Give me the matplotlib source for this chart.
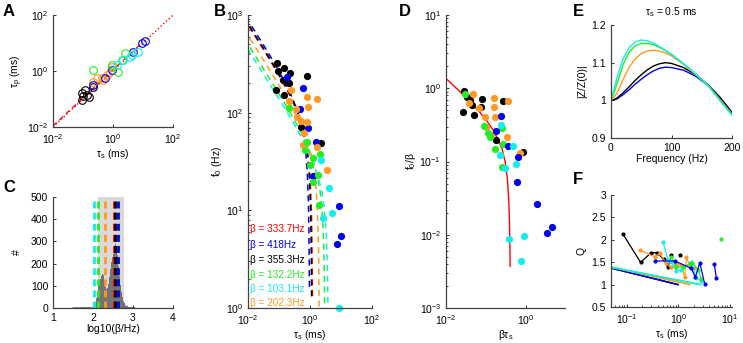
import numpy as np
import matplotlib
matplotlib.use("Agg")
import matplotlib.pyplot as plt
from matplotlib.ticker import LogLocator, NullFormatter

plt.rcParams["font.family"] = ["Liberation Sans", "DejaVu Sans"]
plt.rcParams["mathtext.fontset"] = "custom"
plt.rcParams["mathtext.rm"] = "Liberation Sans"
plt.rcParams["mathtext.it"] = "Liberation Sans:italic"
plt.rcParams["mathtext.default"] = "regular"
plt.rcParams["font.size"] = 7.5

# colours used for the six cells
c_red, c_blue, c_black = "#ff0000", "#0000ee", "#000000"
c_green, c_cyan, c_orange = "#22ee22", "#11eeee", "#ff9922"

# ---- panel A : tau_p vs tau_s (open circles)
a_black_x = [0.090, 0.117, 0.162, 0.090, 0.139, 0.22, 0.103]
a_black_y = [0.159, 0.21, 0.115, 0.092, 0.139, 0.275, 0.128]
a_orange_x = [0.21, 0.286, 0.419, 0.615, 0.9, 0.794, 0.476]
a_orange_y = [0.416, 0.547, 0.547, 0.72, 1.43, 0.946, 0.477]
a_blue_x = [0.22, 0.54, 0.9, 4.76, 9.0, 11.7]
a_blue_y = [0.316, 0.547, 1.09, 4.9, 9.7, 12.1]
a_green_x = [0.22, 1.5, 2.5, 1.95, 0.9]
a_green_y = [1.09, 0.946, 4.27, 2.47, 1.64]
a_cyan_x = [4.19, 7.0, 2.21, 1.33, 3.69]
a_cyan_y = [3.73, 4.9, 2.47, 1.64, 3.16]

# ---- panel B : f0 vs tau_s (filled circles)
b_black_x = [0.084, 0.091, 0.145, 0.226, 0.131, 0.215, 0.080, 0.149, 0.782, 0.5, 2.26]
b_black_y = [325, 269, 284, 257, 216, 203, 171, 152, 238, 72, 49]
b_blue_x = [0.186, 0.581, 0.475, 0.883, 1.56, 1.28, 8.81, 7.26, 9.77]
b_blue_y = [230, 178, 108, 69, 50, 22.6, 11.1, 4.5, 5.5]
b_orange_x = [0.244, 0.215, 0.353, 0.39, 0.5, 0.782, 0.841, 1.64, 0.818, 0.655, 0.61, 1.64, 3.46]
b_orange_y = [171, 133, 108, 90, 83, 146, 114, 137, 81, 62, 47, 45, 26]
b_green_x = [0.215, 0.782, 0.69, 1.22, 1.0, 2.1, 1.28, 1.86, 1.95]
b_green_y = [111, 50, 41, 34, 29, 38, 19.7, 23, 11.4]
b_cyan_x = [2.26, 4.2, 5.0, 2.69, 8.6]
b_cyan_y = [32.8, 16.8, 9.5, 8.3, 1.0]

# ---- panel D : f0/beta vs beta*tau_s
d_black_x = [0.0288, 0.026, 0.0329, 0.0438, 0.05, 0.078, 0.0736, 0.261, 0.178, 0.826, 0.04]
d_black_y = [0.927, 0.469, 0.767, 0.59, 0.431, 0.713, 0.561, 0.677, 0.197, 0.136, 0.69]
d_orange_x = [0.0482, 0.0383, 0.068, 0.094, 0.158, 0.158, 0.168, 0.362, 0.131, 0.329, 0.1, 0.708]
d_orange_y = [0.835, 0.635, 0.532, 0.409, 0.728, 0.549, 0.401, 0.677, 0.23, 0.218, 0.292, 0.132]
d_green_x = [0.03, 0.089, 0.114, 0.126, 0.246, 0.168, 0.261, 0.251]
d_green_y = [0.826, 0.305, 0.248, 0.218, 0.284, 0.15, 0.173, 0.085]
d_blue_x = [0.237, 0.178, 0.362, 0.643, 0.584, 1.85, 3.28, 4.38]
d_blue_y = [0.423, 0.258, 0.163, 0.116, 0.053, 0.0263, 0.0107, 0.0129]
d_cyan_x = [0.237, 0.224, 0.299, 0.482, 0.562, 0.376, 0.874, 0.75]
d_cyan_y = [0.315, 0.123, 0.0807, 0.163, 0.0925, 0.0088, 0.0097, 0.0044]

# theory curve f0/beta vs beta*tau_s
th_u = [0.001, 0.002, 0.005, 0.01, 0.02, 0.04, 0.07, 0.1, 0.15, 0.2, 0.25, 0.3, 0.34, 0.37, 0.385, 0.395, 0.4]
th_g = [4.35, 3.07, 1.93, 1.36, 0.95, 0.65, 0.47, 0.37, 0.27, 0.2, 0.15, 0.1, 0.06, 0.03, 0.015, 0.007, 0.0037]

# beta values (Hz) per cell, as in legend of B
beta_labels = ["333.7", "418", "355.3", "132.2", "103.1", "202.3"]
beta_vals = [333.7, 418.0, 355.3, 132.2, 103.1, 202.3]
beta_cols = [c_red, c_blue, c_black, c_green, c_cyan, c_orange]

# ---- panel C : histogram of log10(beta)
hist_edges_lo = 1.95
hist_width = 0.025
hist_counts = [2, 3, 6, 10, 22, 45, 75, 100, 115, 130, 145, 155, 150, 125, 95, 85, 90, 110,
               140, 175, 205, 230, 245, 260, 290, 275, 240, 190, 145, 105, 70, 48, 32, 22,
               14, 9, 7, 5, 4, 3, 5, 3, 2, 3, 1, 1]
shade_lo, shade_hi = 2.13, 2.78

# ---- panel E : |Z/Z(0)| vs frequency, tau_s = 0.5 ms
e_freq = [0, 5, 10, 20, 30, 40, 50, 60, 70, 80, 90, 100, 120, 140, 160, 180, 200]
e_cyan = [1.0, 1.03, 1.06, 1.11, 1.14, 1.155, 1.16, 1.158, 1.152, 1.143, 1.133, 1.122, 1.097, 1.07, 1.04, 1.0, 0.96]
e_green = [1.0, 1.02, 1.045, 1.095, 1.128, 1.145, 1.151, 1.151, 1.148, 1.141, 1.132, 1.122, 1.097, 1.07, 1.04, 1.0, 0.962]
e_orange = [1.0, 1.008, 1.02, 1.055, 1.088, 1.11, 1.124, 1.131, 1.133, 1.131, 1.126, 1.118, 1.095, 1.068, 1.04, 1.003, 0.963]
e_black = [1.0, 1.002, 1.006, 1.02, 1.036, 1.053, 1.068, 1.081, 1.091, 1.097, 1.1, 1.098, 1.087, 1.068, 1.042, 1.008, 0.967]
e_blue = [1.0, 1.001, 1.004, 1.015, 1.028, 1.043, 1.056, 1.068, 1.078, 1.085, 1.088, 1.087, 1.08, 1.064, 1.04, 1.008, 0.968]

# ---- panel F : Q vs tau_s
f_black_x = [0.085, 0.187, 0.301, 0.388, 0.523, 0.635, 0.737]
f_black_y = [2.13, 1.497, 1.713, 1.713, 1.564, 1.385, 1.66]
f_black_dot = (1.07, 1.66)
f_orange_x = [0.179, 0.35, 0.438, 0.589, 0.715, 0.921, 1.153, 1.337, 1.44, 1.67, 2.03]
f_orange_y = [1.772, 1.623, 1.698, 1.475, 1.385, 1.46, 1.4375, 1.162, 1.623, 1.4, 1.363]
f_cyan_x = [0.508, 0.635, 0.737, 0.921, 1.153, 1.8, 2.25, 2.82]
f_cyan_y = [1.958, 1.549, 1.512, 1.311, 1.326, 1.512, 1.14, 1.088]
f_green_x = [0.737, 0.921, 1.24, 1.67, 1.86, 2.43, 2.82]
f_green_y = [1.623, 1.4, 1.4, 1.46, 1.49, 1.326, 1.118]
f_blue_x = [0.35, 0.855, 1.8, 2.15, 2.61, 3.27]
f_blue_y = [1.527, 1.527, 1.363, 1.162, 1.49, 1.006]
f_blue2_x = [4.97, 5.51]
f_blue2_y = [1.46, 1.14]
f_green_dot = (6.59, 2.02)
# theory lines (start at left edge, end at Q = 1)
f_th_x0 = 0.05
f_th_q0 = [1.37, 1.37, 1.39, 1.39, 1.39]
f_th_end = [0.99, 1.0, 1.67, 2.6, 2.8]
f_th_cols = [c_black, c_blue, c_orange, c_green, c_cyan]


def style(ax):
    for s in ("top", "right"):
        ax.spines[s].set_visible(False)
    for s in ("left", "bottom"):
        ax.spines[s].set_color("0.25")
        ax.spines[s].set_linewidth(0.9)
    ax.tick_params(direction="in", length=2.5, width=0.7, colors="0.2", labelcolor="black", labelsize=7.5)
    ax.tick_params(which="minor", direction="in", length=1.5, width=0.5)


fig = plt.figure(figsize=(7.43, 3.43), dpi=100)
W, H = 743, 343


def add_axes(x0, y0, x1, y1):
    return fig.add_axes([x0 / W, 1 - y1 / H, (x1 - x0) / W, (y1 - y0) / H])


# A
axA = add_axes(53, 15, 173, 127)
style(axA)
axA.plot([0.01, 100], [0.01, 100], color=c_red, ls=":", lw=1)
axA.plot([0.01, 10], [0.011, 11], color=c_red, ls=(0, (4, 3)), lw=0.9)
for xs, ys, c in [(a_black_x, a_black_y, c_black), (a_orange_x, a_orange_y, c_orange),
                  (a_blue_x, a_blue_y, c_blue), (a_green_x, a_green_y, c_green),
                  (a_cyan_x, a_cyan_y, c_cyan)]:
    axA.plot(xs, ys, "o", mfc="none", mec=c, ms=5.5, mew=0.8)
axA.set_xscale("log")
axA.set_yscale("log")
axA.set_xlim(0.01, 100)
axA.set_ylim(0.01, 100)
axA.set_xticks([0.01, 1, 100])
axA.set_yticks([0.01, 1, 100])
axA.xaxis.set_minor_locator(plt.NullLocator())
axA.yaxis.set_minor_locator(plt.NullLocator())
axA.set_xlabel("τ$_s$ (ms)", labelpad=1)
axA.set_ylabel("τ$_p$ (ms)", labelpad=1)

# C
axC = add_axes(53, 197, 173, 308)
style(axC)
axC.axvspan(shade_lo, shade_hi, color="0.85", lw=0)
edges = hist_edges_lo + hist_width * np.arange(len(hist_counts) + 1)
axC.stairs(hist_counts, edges, fill=True, color="0.45")
axC.plot([1.5, 1.95], [1, 2], color="0.45", lw=0.8)
for b, c in zip(beta_vals, beta_cols):
    axC.plot([np.log10(b)] * 2, [0, 480], color=c, lw=2, ls=(0, (2.5, 1.5)))
axC.set_xlim(1, 4)
axC.set_ylim(0, 500)
axC.set_xticks([1, 2, 3, 4])
axC.set_yticks([0, 100, 200, 300, 400, 500])
axC.set_xlabel("log10(β/Hz)", labelpad=1)
axC.set_ylabel("#", labelpad=6)

# B
axB = add_axes(248, 15, 372, 308)
style(axB)
u = np.array(th_u)
g = np.array(th_g)
for b, c in zip(beta_vals, beta_cols):
    axB.plot(u / b * 1000, g * b, color=c, ls=(0, (4, 3)), lw=1.1)
for xs, ys, c in [(b_black_x, b_black_y, c_black), (b_blue_x, b_blue_y, c_blue),
                  (b_orange_x, b_orange_y, c_orange), (b_green_x, b_green_y, c_green),
                  (b_cyan_x, b_cyan_y, c_cyan)]:
    axB.plot(xs, ys, "o", color=c, ms=5.2, mew=0, clip_on=False)
axB.set_xscale("log")
axB.set_yscale("log")
axB.set_xlim(0.01, 100)
axB.set_ylim(1, 1000)
axB.set_xticks([0.01, 1, 100])
axB.xaxis.set_minor_locator(plt.NullLocator())
axB.yaxis.set_minor_locator(LogLocator(subs=np.arange(2, 10)))
axB.yaxis.set_minor_formatter(NullFormatter())
axB.set_xlabel("τ$_s$ (ms)", labelpad=1)
axB.set_ylabel("f$_0$ (Hz)", labelpad=1)
ypos = [229, 245, 260, 275, 289, 303]
for lab, c, yp in zip(beta_labels, beta_cols, ypos):
    axB.text(250 / W, 1 - yp / H, "β = " + lab + "Hz", color=c, fontsize=7.2,
             transform=fig.transFigure, va="center", ha="left")

# D
axD = add_axes(446, 15, 565, 308)
style(axD)
axD.plot(th_u, th_g, color=c_red, lw=1)
for xs, ys, c in [(d_black_x, d_black_y, c_black), (d_orange_x, d_orange_y, c_orange),
                  (d_green_x, d_green_y, c_green), (d_blue_x, d_blue_y, c_blue),
                  (d_cyan_x, d_cyan_y, c_cyan)]:
    axD.plot(xs, ys, "o", color=c, ms=5.2, mew=0)
axD.set_xscale("log")
axD.set_yscale("log")
axD.set_xlim(0.01, 9.4)
axD.set_ylim(0.001, 10)
axD.set_xticks([0.01, 1])
axD.xaxis.set_minor_locator(plt.NullLocator())
axD.yaxis.set_minor_locator(LogLocator(subs=np.arange(2, 10)))
axD.yaxis.set_minor_formatter(NullFormatter())
axD.set_xlabel("βτ$_s$", labelpad=1)
axD.set_ylabel("f$_0$/β", labelpad=1)

# E
axE = add_axes(611, 25, 732, 138)
style(axE)
for ys, c in [(e_blue, c_blue), (e_black, c_black), (e_orange, c_orange),
              (e_green, c_green), (e_cyan, c_cyan)]:
    axE.plot(e_freq, ys, color=c, lw=1)
axE.set_xlim(0, 200)
axE.set_ylim(0.9, 1.2)
axE.set_xticks([0, 100, 200])
axE.set_yticks([0.9, 1.0, 1.1, 1.2])
axE.set_yticklabels(["0.9", "1", "1.1", "1.2"])
axE.set_xlabel("Frequency (Hz)", labelpad=1)
axE.set_ylabel("|Z/Z(0)|", labelpad=3)
axE.set_title("τ$_s$ = 0.5 ms", fontsize=7.5, pad=7)

# F
axF = add_axes(611, 195, 732, 307)
style(axF)
for q0, xe, c in zip(f_th_q0, f_th_end, f_th_cols):
    axF.plot([f_th_x0, xe], [q0, 1.0], color=c, lw=1.1)
for xs, ys, c in [(f_black_x, f_black_y, c_black), (f_orange_x, f_orange_y, c_orange),
                  (f_cyan_x, f_cyan_y, c_cyan), (f_green_x, f_green_y, c_green),
                  (f_blue_x, f_blue_y, c_blue), (f_blue2_x, f_blue2_y, c_blue)]:
    axF.plot(xs, ys, "-o", color=c, lw=0.9, ms=2)
axF.plot(*f_black_dot, "o", color=c_black, ms=2)
axF.plot(*f_green_dot, "o", color=c_green, ms=2)
axF.set_xscale("log")
axF.set_xlim(0.05, 11)
axF.set_ylim(0.5, 3)
axF.set_xticks([0.1, 1, 10])
axF.xaxis.set_minor_locator(LogLocator(subs=np.arange(2, 10)))
axF.xaxis.set_minor_formatter(NullFormatter())
axF.set_yticks([0.5, 1, 1.5, 2, 2.5, 3])
axF.set_yticklabels(["0.5", "1", "1.5", "2", "2.5", "3"])
axF.set_xlabel("τ$_s$ (ms)", labelpad=1)
axF.set_ylabel("Q", labelpad=4)

# panel letters
for lab, xp, yp in [("A", 9, 12), ("B", 220, 12), ("C", 9, 187), ("D", 405, 12),
                    ("E", 578, 12), ("F", 578, 180)]:
    fig.text(xp / W, 1 - yp / H, lab, fontsize=12, fontweight="bold", ha="center", va="center")

fig.savefig("out.png", dpi=100)
